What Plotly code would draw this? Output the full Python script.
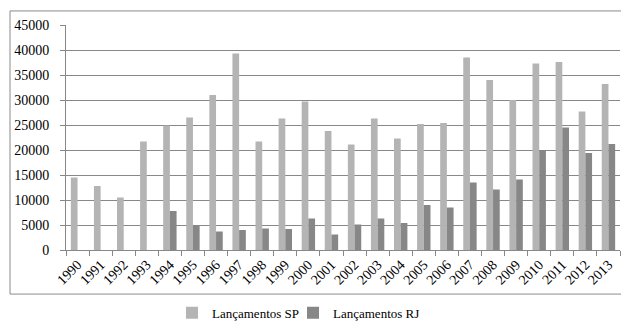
import plotly.graph_objects as go

years = [str(y) for y in range(1990, 2014)]
sp = [14500, 12800, 10500, 21700, 24900, 26500, 31000, 39300, 21700, 26300, 29700, 23800,
      21100, 26300, 22300, 25200, 25400, 38500, 34000, 30000, 37300, 37600, 27700, 33200]
rj = [None, None, None, None, 7800, 5000, 3700, 4000, 4300, 4200, 6300, 3100,
      5100, 6300, 5400, 9000, 8500, 13500, 12100, 14100, 20000, 24500, 19400, 21200]
yticks = list(range(0, 45001, 5000))
ytext = [str(v) for v in yticks]

fig = go.Figure()
fig.add_trace(go.Bar(x=years, y=sp, name="Lançamentos SP", marker_color="#b4b4b4",
                     marker_line_width=0, legend="legend"))
fig.add_trace(go.Bar(x=years, y=rj, name="Lançamentos RJ", marker_color="#878787",
                     marker_line_width=0, legend="legend2"))

W, H = 629, 332
L, R, T, B = 58, 17, 17, 75
pw, ph = W - L - R, H - T - B

def px(x):
    return (x - L) / pw

def py(y):
    return (H - B - y) / ph

fig.add_shape(type="rect", xref="paper", yref="paper",
              x0=px(2), x1=px(626), y0=py(304), y1=py(2),
              line=dict(color="#8a8a8a", width=1), layer="below")

leg = dict(orientation="h", xanchor="left", yanchor="middle", y=py(324),
           font=dict(size=13), itemwidth=30, bgcolor="rgba(0,0,0,0)")

fig.update_layout(
    width=W, height=H,
    margin=dict(l=L, r=R, t=T, b=B),
    paper_bgcolor="white", plot_bgcolor="white",
    barmode="group", bargap=0.42, bargroupgap=0,
    font=dict(family="Liberation Serif, Times New Roman, serif", color="#000", size=13),
    showlegend=True,
    legend=dict(leg, x=px(164)),
    legend2=dict(leg, x=px(285)),
    xaxis=dict(type="category", tickangle=-45, showline=True, linecolor="#888",
               ticks="outside", ticklen=5, tickcolor="#888", tickson="boundaries",
               showgrid=False, tickfont=dict(size=14), automargin=False),
    yaxis=dict(range=[0, 45000], tickvals=yticks, ticktext=ytext, showline=True,
               linecolor="#888", ticks="outside", ticklen=5, tickcolor="#888",
               showgrid=True, gridcolor="#888", gridwidth=1, zeroline=False,
               tickfont=dict(size=14), ticklabelstandoff=8, automargin=False),
)

fig.write_html("out.html")
